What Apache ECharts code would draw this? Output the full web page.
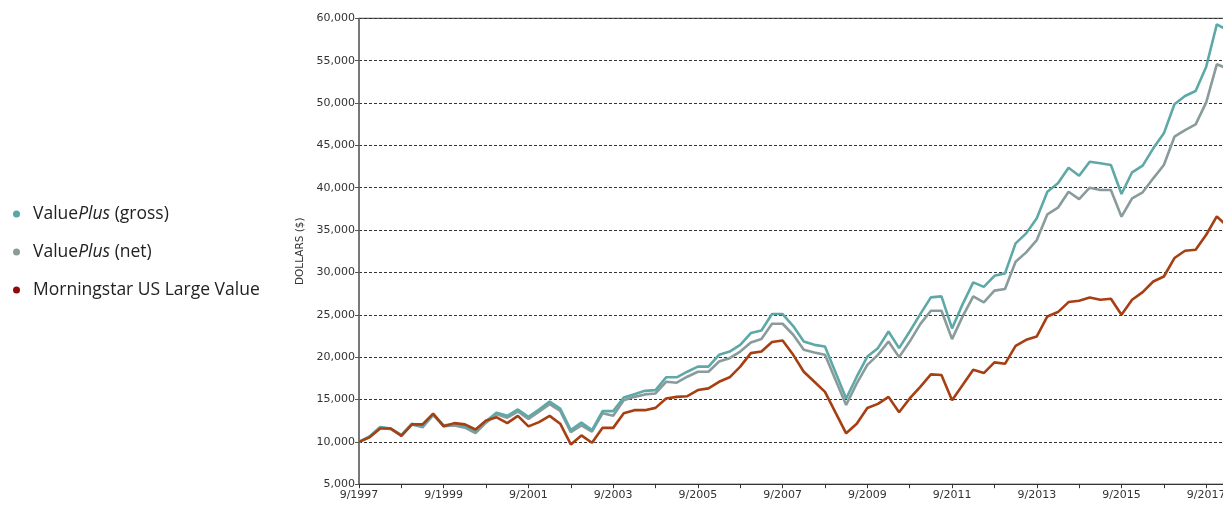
<!DOCTYPE html>
<html>
<head>
<meta charset="utf-8">
<script src="https://cdn.jsdelivr.net/npm/echarts@6/dist/echarts.min.js"></script>
<style>
html,body{margin:0;padding:0;background:#fff;}
#chart{width:1223px;height:506px;}
</style>
</head>
<body>
<div id="chart"></div>
<script>
// Quarter-end categories 9/1997 .. 3/2018
var startYear = 1997, quarterMonths = [9, 12, 3, 6], quarterCount = 83;
var categories = [];
for (var k = 0; k < quarterCount; k++) {
  var m = quarterMonths[k % 4];
  var y = startYear + Math.floor((k + 1) / 4);
  if (k % 4 === 0) y = startYear + k / 4;
  categories.push(m + '/' + y);
}

var seriesNames = ['ValuePlus (gross)', 'ValuePlus (net)', 'Morningstar US Large Value'];

var grossValues = [10000,10640,11760,11570,10820,12140,11830,13260,11940,12060,
  11830,11200,12440,13450,13070,13820,12960,13820,14750,13930,
  11380,12270,11380,13630,13630,15240,15630,16020,16110,17620,
  17620,18280,18880,18880,20270,20660,21450,22840,23140,25090,
  25090,23670,21840,21450,21250,18190,15120,17690,20070,21060,
  23030,21060,23030,25080,27050,27170,23390,26260,28820,28300,
  29600,29890,33430,34610,36390,39530,40520,42360,41420,43070,
  42880,42680,39260,41820,42600,44650,46420,49850,50830,51420,
  54290,59290,58600];

var netValues = [10000,10600,11700,11500,10750,12050,11720,13150,11850,11930,
  11680,11030,12270,13250,12850,13580,12700,13560,14450,13640,
  11130,11950,11200,13370,13070,14920,15310,15600,15710,17090,
  16980,17690,18280,18280,19480,19880,20660,21730,22130,23940,
  23940,22640,20860,20540,20270,17300,14360,16900,19090,20270,
  21840,20000,21840,23900,25470,25470,22130,24810,27170,26460,
  27850,28040,31260,32370,33820,36860,37640,39530,38660,40000,
  39730,39730,36580,38750,39460,41110,42680,46020,46810,47480,
  50080,54570,54070];

var msValues = [10000,10530,11570,11570,10710,12060,12060,13340,11830,12210,
  12060,11460,12510,12890,12210,13070,11830,12330,13070,12140,
  9700,10760,9890,11650,11650,13370,13740,13740,14010,15120,
  15310,15390,16110,16310,17090,17620,18880,20470,20660,21780,
  21970,20270,18280,17090,15900,13440,11010,12130,14000,14480,
  15310,13500,15120,16500,17970,17890,14920,16700,18520,18120,
  19380,19210,21340,22050,22440,24800,25320,26500,26660,27040,
  26770,26890,25000,26770,27680,28930,29520,31700,32560,32680,
  34450,36610,35430];

var yMin = 5000, yMax = 60000, yStep = 5000;

var lineColors = ['#5ea9a7', '#8a9b9b', '#a63f12'];
var dotColors = ['#5aa6a6', '#8c9a9a', '#8e0b0b'];

var chart = echarts.init(document.getElementById('chart'), null, {renderer: 'canvas'});

var legendFont = 'Open Sans';
chart.setOption({
  animation: false,
  backgroundColor: '#ffffff',
  grid: {
    left: 359, top: 18.3, width: 868.4, height: 465.9,
    show: true, borderColor: '#333333', borderWidth: 1, backgroundColor: 'transparent',
    containLabel: false,
    outerBoundsMode: 'none'
  },
  legend: {
    orient: 'vertical',
    left: 8, top: 200,
    itemWidth: 7, itemHeight: 7, itemGap: 20,
    icon: 'circle',
    data: seriesNames.map(function (n, i) { return {name: n, itemStyle: {color: dotColors[i]}}; }),
    formatter: function (name) {
      return name.replace('Plus', '{i|Plus}');
    },
    textStyle: {
      fontFamily: legendFont, fontSize: 17.5, color: '#222222', padding: [0, 0, 0, 8],
      rich: { i: { fontFamily: legendFont, fontSize: 17.5, fontStyle: 'italic', color: '#222222' } }
    }
  },
  xAxis: {
    type: 'category',
    data: categories,
    boundaryGap: false,
    axisLine: { lineStyle: { color: '#333333', width: 1 } },
    axisTick: { interval: function (idx) { return idx % 4 === 0; }, length: 4, lineStyle: { color: '#333333' } },
    axisLabel: {
      interval: function (idx) { return idx % 8 === 0; },
      fontFamily: 'DejaVu Sans', fontSize: 11, color: '#333333', margin: 5
    },
    splitLine: { show: false }
  },
  yAxis: {
    type: 'value',
    min: yMin, max: yMax, interval: yStep,
    name: 'DOLLARS ($)',
    nameLocation: 'middle',
    nameGap: 47,
    nameTextStyle: { fontFamily: 'DejaVu Sans', fontSize: 10.5, color: '#333333' },
    axisLine: { show: true, lineStyle: { color: '#6e6e6e', width: 1.5 } },
    axisTick: { show: true, length: 4, lineStyle: { color: '#555555' } },
    axisLabel: {
      fontFamily: 'DejaVu Sans', fontSize: 11, color: '#333333', margin: 4,
      formatter: function (v) { return v.toLocaleString('en-US'); }
    },
    splitLine: { show: true, lineStyle: { color: '#333333', width: 1, type: [3, 2] } }
  },
  series: [
    { name: seriesNames[0], type: 'line', data: grossValues, showSymbol: false, symbol: 'none', z: 3,
      lineStyle: { color: lineColors[0], width: 2.6 }, itemStyle: { color: lineColors[0] } },
    { name: seriesNames[1], type: 'line', data: netValues, showSymbol: false, symbol: 'none', z: 2,
      lineStyle: { color: lineColors[1], width: 2.6 }, itemStyle: { color: lineColors[1] } },
    { name: seriesNames[2], type: 'line', data: msValues, showSymbol: false, symbol: 'none', z: 4,
      lineStyle: { color: lineColors[2], width: 2.6 }, itemStyle: { color: lineColors[2] } }
  ]
});
</script>
</body>
</html>
